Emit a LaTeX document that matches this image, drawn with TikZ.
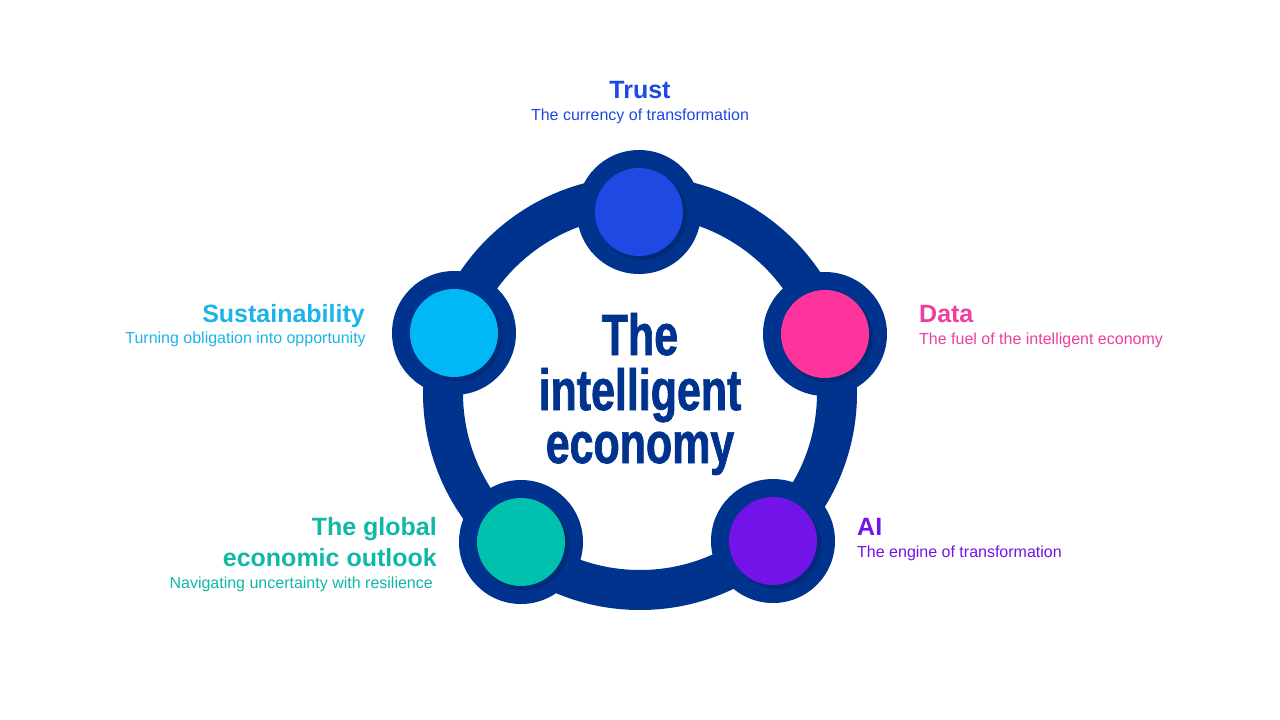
\documentclass[tikz,border=0pt]{standalone}
\usepackage{fontspec}
\setmainfont{Liberation Sans}
\newfontfamily\cond[FakeStretch=0.74,FakeBold=1.2]{Liberation Sans Bold}
\definecolor{navy}{HTML}{00338D}
\definecolor{navyd}{HTML}{002B78}
\definecolor{ctrust}{HTML}{1E49E2}
\definecolor{cdata}{HTML}{FD349C}
\definecolor{cai}{HTML}{7213EA}
\definecolor{cglob}{HTML}{00C0AE}
\definecolor{csust}{HTML}{00B8F5}
\definecolor{tsust}{HTML}{1BB3EA}
\definecolor{tdata}{HTML}{EE3E9F}
\definecolor{tglob}{HTML}{10B8A6}
\tikzset{
  ttl/.style={inner sep=0pt, font=\fontsize{25}{30}\selectfont\bfseries},
  sub/.style={inner sep=0pt, font=\fontsize{16}{19}\selectfont},
  mid/.style={inner sep=0pt, text=navy, font=\cond\fontsize{58}{54}\selectfont},
  hub/.style={circle, fill=navy, minimum size=124pt, inner sep=0pt},
  shade/.style={circle, fill=navyd, minimum size=90pt, inner sep=0pt},
  dot/.style={circle, minimum size=88pt, inner sep=0pt},
}
\begin{document}
\begin{tikzpicture}[x=1pt,y=-1pt]
\useasboundingbox (0,0) rectangle (1280,720);
\fill[white] (0,0) rectangle (1280,720);
% ring
\coordinate (ctr) at (640,393);
\draw[navy, line width=40pt] (ctr) circle[radius=197pt];
% hubs
\foreach \n/\x/\y/\c in {trust/639/212/ctrust, data/825/334/cdata, ai/773/541/cai, glob/521/542/cglob, sust/454/333/csust}{
  \node[hub] (\n-o) at (\x,\y) {};
  \node[shade] (\n-s) at (\x+3,\y+3) {};
  \node[dot, fill=\c] (\n) at (\x,\y) {};
}
% centre text
\node[mid, anchor=base] (m1) at (640,355) {The};
\node[mid, anchor=base] (m2) at (640,410) {intelligent};
\node[mid, anchor=base] (m3) at (640,463) {economy};
% labels
\node[ttl, text=ctrust, anchor=base] (trust-t) at (640,98) {Trust};
\node[sub, text=ctrust, anchor=base] (trust-st) at (640,120) {The currency of transformation};
\node[ttl, text=tsust, anchor=base east] (sust-t) at (365,322) {Sustainability};
\node[sub, text=tsust, anchor=base east] (sust-st) at (366,343) {Turning obligation into opportunity};
\node[ttl, text=tdata, anchor=base west] (data-t) at (919,322) {Data};
\node[sub, text=tdata, anchor=base west] (data-st) at (919,344) {The fuel of the intelligent economy};
\node[ttl, text=cai, anchor=base west] (ai-t) at (857,535) {AI};
\node[sub, text=cai, anchor=base west] (ai-st) at (857,557) {The engine of transformation};
\node[ttl, text=tglob, anchor=base east] (glob-t1) at (437,535) {The global};
\node[ttl, text=tglob, anchor=base east] (glob-t2) at (437,566) {economic outlook};
\node[sub, text=tglob, anchor=base east] (glob-st) at (433,588) {Navigating uncertainty with resilience};
\end{tikzpicture}
\end{document}
